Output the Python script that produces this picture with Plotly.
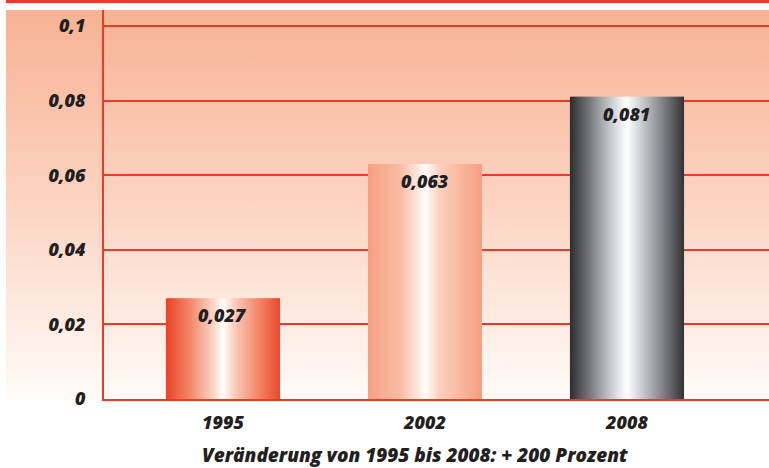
import base64
import plotly.graph_objects as go

# Data
years = ["1995", "2002", "2008"]
values = [0.027, 0.063, 0.081]
y_tick_values = [0, 0.02, 0.04, 0.06, 0.08, 0.1]
y_tick_labels = ["0", "0,02", "0,04", "0,06", "0,08", "0,1"]
caption = "Veränderung von 1995 bis 2008: + 200 Prozent"

RED = "#EE3A24"
TEXT = "#231F20"
FONT = "Open Sans"
WEIGHT = 800

W, H = 769, 468
L, R, T, B = 104, 0, 10, 69
plot_w = W - L - R
plot_h = H - T - B

# Horizontal colour profiles (cylinder look) for each bar
profiles = [
    [(0.0, (236, 66, 40)), (0.22, (243, 138, 108)), (0.42, (251, 215, 200)),
     (0.5, (255, 255, 255)), (0.6, (250, 205, 188)), (0.8, (243, 138, 108)),
     (1.0, (237, 72, 46))],
    [(0.0, (246, 160, 130)), (0.28, (249, 188, 163)), (0.44, (253, 232, 222)),
     (0.5, (255, 255, 255)), (0.62, (251, 210, 193)), (0.8, (248, 185, 160)),
     (1.0, (245, 160, 130))],
    [(0.0, (45, 45, 48)), (0.14, (105, 106, 110)), (0.3, (175, 178, 182)),
     (0.44, (232, 235, 238)), (0.5, (255, 255, 255)), (0.62, (205, 208, 212)),
     (0.84, (118, 119, 123)), (1.0, (52, 52, 55))],
]


def interp(stops, t):
    for (t0, c0), (t1, c1) in zip(stops[:-1], stops[1:]):
        if t0 <= t <= t1:
            f = (t - t0) / (t1 - t0) if t1 > t0 else 0
            c = [round(a + (b - a) * f) for a, b in zip(c0, c1)]
            return f"rgb({c[0]},{c[1]},{c[2]})"
    c = stops[-1][1]
    return f"rgb({c[0]},{c[1]},{c[2]})"


fig = go.Figure()

bar_w = 0.565
n_strips = 70
strip_w = bar_w / n_strips
for i, (yr, v) in enumerate(zip(years, values)):
    offsets = [-bar_w / 2 + k * strip_w for k in range(n_strips)]
    widths = [strip_w * (1.0 if k == n_strips - 1 else 1.6) for k in range(n_strips)]
    colors = [interp(profiles[i], (k + 0.5) / n_strips) for k in range(n_strips)]
    fig.add_trace(go.Bar(
        x=[i] * n_strips, y=[v] * n_strips,
        offset=offsets, width=widths,
        marker=dict(color=colors, line=dict(width=0)),
        hoverinfo="skip", showlegend=False,
    ))
    fig.add_annotation(
        x=i, y=v, xref="x", yref="y",
        text=f"{v:.3f}".replace(".", ","),
        showarrow=False, yanchor="middle", yshift=-17,
        font=dict(family=FONT, size=18, color=TEXT, weight=WEIGHT, style="italic"),
    )

# Vertical background gradient behind the plot and tick labels
svg = (
    '<svg xmlns="http://www.w3.org/2000/svg" width="100" height="100" '
    'preserveAspectRatio="none" viewBox="0 0 100 100">'
    '<defs><linearGradient id="g" x1="0" y1="0" x2="0" y2="1">'
    '<stop offset="0" stop-color="#F7B294"/>'
    '<stop offset="0.5" stop-color="#FCD4C2"/>'
    '<stop offset="1" stop-color="#FFFBF8"/>'
    '</linearGradient></defs>'
    '<rect x="0" y="0" width="100" height="100" fill="url(#g)"/></svg>'
)
src = "data:image/svg+xml;base64," + base64.b64encode(svg.encode()).decode()


def px_x(px):
    return (px - L) / plot_w


def px_y(py):
    return (H - B - py) / plot_h


fig.add_layout_image(
    source=src, xref="paper", yref="paper",
    x=px_x(6), y=px_y(10), sizex=1 - px_x(6), sizey=px_y(10) - px_y(400),
    xanchor="left", yanchor="top", sizing="stretch", layer="below",
)

# Red rule across the top
fig.add_shape(
    type="line", xref="paper", yref="paper",
    x0=px_x(6), x1=1, y0=px_y(1.5), y1=px_y(1.5),
    line=dict(color=RED, width=3),
)

fig.add_annotation(
    x=px_x(415), y=px_y(455), xref="paper", yref="paper",
    text=caption, showarrow=False, xanchor="center", yanchor="middle",
    font=dict(family=FONT, size=19, color=TEXT, weight=WEIGHT, style="italic"),
)

tick_font = dict(family=FONT, size=18, color=TEXT, weight=WEIGHT, style="italic")

fig.update_layout(
    width=W, height=H,
    margin=dict(l=L, r=R, t=T, b=B, pad=0),
    paper_bgcolor="white",
    plot_bgcolor="rgba(0,0,0,0)",
    barmode="overlay",
    xaxis=dict(
        range=[-0.589, 2.703],
        tickvals=[0, 1, 2], ticktext=years,
        tickfont=tick_font,
        showgrid=False, zeroline=False,
        showline=True, linecolor=RED, linewidth=2,
        ticks="outside", ticklen=6, tickcolor="rgba(0,0,0,0)",
    ),
    yaxis=dict(
        range=[0, (H - B - T) / 3730],
        tickvals=y_tick_values, ticktext=y_tick_labels,
        tickfont=tick_font,
        showgrid=True, gridcolor=RED, gridwidth=2,
        zeroline=False,
        showline=True, linecolor=RED, linewidth=2,
        ticks="outside", ticklen=13, tickcolor="rgba(0,0,0,0)",
    ),
)

fig.write_html("out.html")
